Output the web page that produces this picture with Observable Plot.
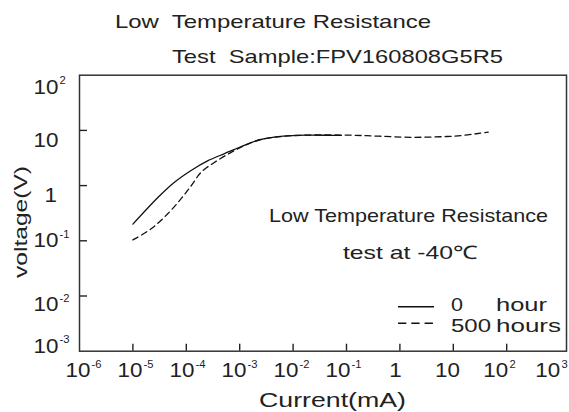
<!DOCTYPE html>
<html><head><meta charset="utf-8">
<script src="https://cdn.jsdelivr.net/npm/d3@7"></script>
<script src="https://cdn.jsdelivr.net/npm/@observablehq/plot@0.6"></script>
<style>
body{margin:0;background:#fff;}
#chart svg{display:block;}
</style></head><body><div id="chart"></div>
<script>
// ---- chart content ----
const titleLines = ["Low  Temperature Resistance", "Test  Sample:FPV160808G5R5"];
const noteLines = ["Low Temperature Resistance", "test at -40\u2103"];
const xLabel = "Current(mA)";
const yLabel = "voltage(V)";
const legendNumbers = ["0", "500"];
const legendUnits = ["hour", "hours"];

const xTickValues = [1e-6, 1e-5, 1e-4, 1e-3, 1e-2, 1e-1, 1, 10, 100, 1000];
const xTickLabels = ["10^-6", "10^-5", "10^-4", "10^-3", "10^-2", "10^-1", "1", "10", "10^2", "10^3"];
const yTickValues = [1e-3, 1e-2, 1e-1, 1, 10, 100];
const yTickLabels = ["10^-3", "10^-2", "10^-1", "1", "10", "10^2"];

// 0 hour (solid)
const current0h = [1e-5, 3e-5, 6e-5, 1.25e-4, 2.5e-4, 5.2e-4, 1.07e-3, 2.3e-3, 6.5e-3, 1.8e-2, 5e-2, 8e-2];
const voltage0h = [0.2, 0.62, 1.15, 1.9, 2.8, 3.8, 5.1, 6.7, 7.85, 8.2, 8.15, 8.1];
// 500 hours (dashed)
const current500h = [1e-5, 2.2e-5, 4.5e-5, 8e-5, 1.24e-4, 1.9e-4, 3.4e-4, 6.9e-4, 1.23e-3, 2.3e-3, 6.5e-3, 1.8e-2, 1.1e-1, 4.1e-1, 1.75, 7.4, 15, 27, 45];
const voltage500h = [0.104, 0.165, 0.31, 0.58, 1.0, 1.75, 2.65, 4.0, 5.3, 6.7, 7.8, 8.2, 8.2, 7.85, 7.5, 7.75, 8.1, 8.7, 9.3];

const data0 = current0h.map((x, i) => ({x, y: voltage0h[i]}));
const data500 = current500h.map((x, i) => ({x, y: voltage500h[i]}));

// ---- layout ----
const W = 569, H = 412, mL = 79, mR = 3, mT = 74.7, mB = 61.3;
const innerW = W - mL - mR, innerH = H - mT - mB;
const INK = "#222";
const FONT = "'Liberation Sans', Arial, Helvetica, sans-serif";
// small hand-set label nudges seen in the reference (pixels)
const xLabelShift = i => 4 - 1.4 * i;
const yLabelShift = [-5, 9, 0, 10, 10, 12];

const plot = Plot.plot({
  width: W, height: H,
  marginLeft: mL, marginRight: mR, marginTop: mT, marginBottom: mB,
  style: {fontFamily: FONT, color: INK, background: "#fff"},
  x: {type: "log", domain: [1e-6, 10 ** 3.12], axis: null},
  y: {type: "log", domain: [1e-3, 1e2], axis: null},
  marks: [
    Plot.line(data0, {x: "x", y: "y", curve: "catmull-rom", stroke: "#111", strokeWidth: 1.3}),
    Plot.line(data500, {x: "x", y: "y", curve: "catmull-rom", stroke: "#111", strokeWidth: 1.3, strokeDasharray: "6,4"}),
    Plot.tickX(xTickValues.filter(v => v > 1e-6 && v < 1e3), {x: d => d, insetTop: innerH - 7, stroke: INK, strokeWidth: 1.4}),
    Plot.tickY(yTickValues.filter(v => v > 1e-3 && v < 1e2), {y: d => d, insetRight: innerW - 8, stroke: INK, strokeWidth: 1.4}),
    Plot.frame({stroke: "#333", strokeWidth: 1.5}),
    Plot.text(xTickValues, {x: d => d, text: (d, i) => xTickLabels[i], frameAnchor: "bottom", lineAnchor: "top",
      dy: 11.8, fontSize: 20, fill: INK}),
    Plot.text(yTickValues, {y: d => d, text: (d, i) => yTickLabels[i], frameAnchor: "left", lineAnchor: "middle",
      textAnchor: "start", dx: -46, fontSize: 20, fill: INK})
  ]
});

document.getElementById("chart").appendChild(plot);
const svg = d3.select(plot);

function stretch(el, s, extraX = 0, extraY = 0) {
  const t = el.getAttribute("transform") || "";
  const x = parseFloat(el.getAttribute("x") || "0") || 0;
  el.removeAttribute("x");
  el.setAttribute("transform", `${t} translate(${x + extraX},${extraY}) scale(${s},1)`);
}

// tick labels: the first texts in the svg are the x tick labels, then the y tick labels
const tickTexts = svg.selectAll("text").nodes();
tickTexts.forEach((node, k) => {
  const isY = k >= xTickLabels.length;
  const j = isY ? k - xTickLabels.length : k;
  const s = node.textContent;
  const parts = s.split("^");
  if (parts.length === 2) {
    node.textContent = parts[0];
    d3.select(node).append("tspan").attr("font-size", 10).attr("dy", -9.4).attr("dx", 1).text(parts[1]);
  }
  if (isY) stretch(node, 1.12, s === "1" ? 11 : 0, yLabelShift[j] || 0);
  else stretch(node, 1.12, xLabelShift(j), 0);
});

function addText(str, x, y, size, len, anchor = "start", rotate = 0) {
  const t = svg.append("text")
    .attr("transform", `translate(${x},${y})${rotate ? ` rotate(${rotate})` : ""}`)
    .attr("font-size", size)
    .attr("font-family", FONT)
    .attr("fill", INK)
    .attr("text-anchor", anchor)
    .style("white-space", "pre")
    .text(str);
  if (len) t.attr("textLength", len).attr("lengthAdjust", "spacingAndGlyphs");
  return t;
}

addText(titleLines[0], 115, 28.3, 18.5, 316);
addText(titleLines[1], 172, 63.3, 18.5, 331);
addText(noteLines[0], 269, 222, 18.5, 279);
addText(noteLines[1], 343, 259, 18.5, 134);
addText(xLabel, 259, 406.7, 20, 147);
addText(yLabel, 26.5, 222, 19, 112, "middle", -90);

addText(legendNumbers[0], 451, 311, 18.5, 12);
addText(legendUnits[0], 496, 311, 18.5, 51);
addText(legendNumbers[1], 451, 332, 18.5, 40);
addText(legendUnits[1], 496, 332, 18.5, 65);

svg.append("line").attr("x1", 398).attr("x2", 434).attr("y1", 306.7).attr("y2", 306.7)
  .attr("stroke", "#111").attr("stroke-width", 1.4);
svg.append("line").attr("x1", 398).attr("x2", 434).attr("y1", 323.3).attr("y2", 323.3)
  .attr("stroke", "#111").attr("stroke-width", 1.4).attr("stroke-dasharray", "8.3,5");
</script>
</body></html>
